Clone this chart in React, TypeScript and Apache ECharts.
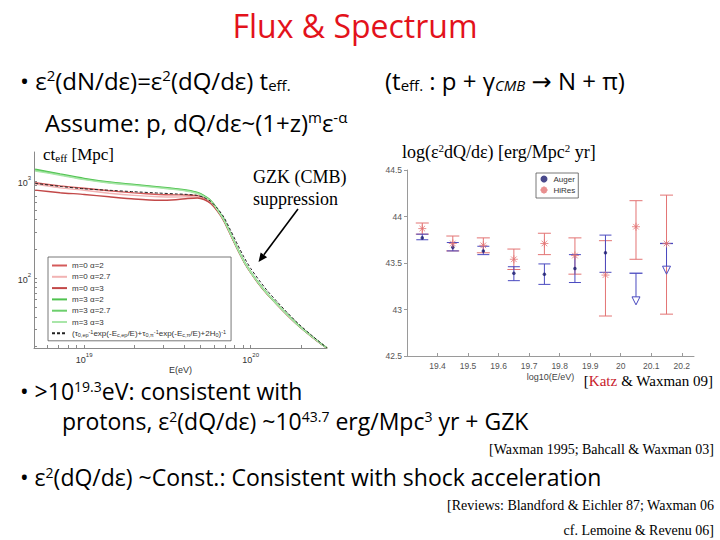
import React, { useEffect, useRef } from "react";
import * as echarts from "echarts";

// ---------- Left panel: c·t_eff [Mpc] vs E (values stored as log10) ----------
const LOG_E = [18.706, 18.856, 19.0, 19.15, 19.3, 19.45, 19.55, 19.62, 19.68, 19.72, 19.76, 19.8, 19.84, 19.88, 19.92, 19.96, 20.0, 20.05, 20.1, 20.16, 20.22, 20.29, 20.36, 20.42, 20.458];
const CT_M0_A2 = [2.982, 2.95, 2.926, 2.9, 2.878, 2.862, 2.858, 2.857, 2.848, 2.825, 2.78, 2.7, 2.592, 2.448, 2.304, 2.17, 2.06, 1.94, 1.836, 1.726, 1.621, 1.507, 1.408, 1.328, 1.281];
const CT_M0_A27 = [2.969, 2.93, 2.905, 2.875, 2.852, 2.838, 2.836, 2.838, 2.835, 2.815, 2.772, 2.695, 2.588, 2.445, 2.301, 2.168, 2.058, 1.938, 1.834, 1.725, 1.62, 1.506, 1.407, 1.327, 1.281];
const CT_M0_A3 = [2.907, 2.88, 2.862, 2.838, 2.815, 2.802, 2.808, 2.82, 2.826, 2.81, 2.768, 2.69, 2.585, 2.442, 2.299, 2.166, 2.056, 1.937, 1.833, 1.724, 1.619, 1.505, 1.406, 1.326, 1.281];
const CT_M3_A2 = [3.121, 3.072, 3.027, 2.99, 2.965, 2.94, 2.922, 2.905, 2.882, 2.85, 2.8, 2.71, 2.6, 2.455, 2.31, 2.175, 2.065, 1.945, 1.84, 1.73, 1.625, 1.51, 1.41, 1.33, 1.281];
const CT_M3_A27 = [3.112, 3.066, 3.02, 2.985, 2.96, 2.935, 2.917, 2.9, 2.877, 2.845, 2.796, 2.707, 2.597, 2.452, 2.307, 2.173, 2.063, 1.943, 1.839, 1.729, 1.624, 1.509, 1.409, 1.329, 1.281];
const CT_M3_A3 = [3.104, 3.06, 3.015, 2.98, 2.955, 2.93, 2.912, 2.895, 2.872, 2.84, 2.792, 2.704, 2.594, 2.45, 2.305, 2.171, 2.061, 1.941, 1.837, 1.727, 1.622, 1.508, 1.408, 1.328, 1.281];
const CT_ANALYTIC = [2.976, 2.945, 2.92, 2.905, 2.89, 2.876, 2.868, 2.862, 2.852, 2.83, 2.79, 2.72, 2.625, 2.49, 2.35, 2.215, 2.1, 1.98, 1.87, 1.755, 1.645, 1.525, 1.42, 1.335, 1.281];

const LEFT_NAMES = ["m=0 α=2", "m=0 α=2.7", "m=0 α=3", "m=3 α=2", "m=3 α=2.7", "m=3 α=3", "analytic"];
const LEFT_COLORS = ["#d45a5a", "#f2b3b3", "#c24848", "#4fc24f", "#6ccf6c", "#a9e6a9", "#222222"];
const LEFT_X_LABELS = [19, 20];
const LEFT_Y_LABELS = [2, 3];

// ---------- Right panel: log(e^2 dQ/de) vs log10(E/eV) ----------
const BINS = [19.35, 19.45, 19.55, 19.65, 19.75, 19.85, 19.95, 20.05, 20.15];
const AUGER_BINS = [19.35, 19.45, 19.55, 19.65, 19.75, 19.85, 19.95];
const AUGER_VAL = [43.77, 43.67, 43.63, 43.39, 43.38, 43.44, 43.61];
const AUGER_LO = [43.75, 43.63, 43.59, 43.31, 43.27, 43.29, 43.4];
const AUGER_HI = [43.81, 43.72, 43.68, 43.46, 43.49, 43.59, 43.8];
const AUGER_UL_BINS = [20.05, 20.15];
const AUGER_UL_TOP = [43.39, 43.71];
const AUGER_UL_TIP = [43.05, 43.38];
const HIRES_VAL = [43.87, 43.71, 43.69, 43.54, 43.71, 43.58, 43.37, 43.89, 43.71];
const HIRES_LO = [43.81, 43.63, 43.61, 43.43, 43.59, 43.38, 42.93, 43.54, 42.95];
const HIRES_HI = [43.93, 43.79, 43.77, 43.65, 43.82, 43.77, 43.74, 44.17, 44.23];

const COMIC = "'Open Sans', 'DejaVu Sans', sans-serif";
const SERIF = "'Liberation Serif', 'DejaVu Serif', serif";
const SANS = "'Liberation Sans', Arial, sans-serif";

const AUGER_BAR = "#4a4ac0";
const AUGER_DOT = "#1c1c6e";
const HIRES_COLOR = "#e37474";

function logTicks(lo: number, hi: number) {
  const out: number[] = [];
  for (let n = Math.floor(lo); n <= Math.ceil(hi); n++) {
    for (let k = 1; k <= 9; k++) {
      const v = n + Math.log10(k);
      if (v >= lo - 1e-9 && v <= hi + 1e-9) out.push(v);
    }
  }
  return out;
}

function richFor(size: number, family: string, color: string) {
  const lh = Math.round(size * 1.05);
  const s = Math.round(size * 0.62);
  return {
    sup: { fontSize: s, fontFamily: family, fill: color, color, verticalAlign: "top", lineHeight: Math.round(s * 1.0) },
    sub: { fontSize: s, fontFamily: family, fill: color, color, verticalAlign: "bottom", lineHeight: Math.round(s * 1.0) },
    subi: { fontSize: s, fontFamily: family, fontStyle: "italic", fill: color, color, verticalAlign: "bottom", lineHeight: Math.round(s * 1.0) },
    red: { fontSize: size, fontFamily: family, fill: "#c8202a", color: "#c8202a", lineHeight: lh },
  };
}

function txt(text: string, x: number, y: number, size: number, family: string, opts: any = {}) {
  const color = opts.color || "#000";
  return {
    type: "text",
    x,
    y,
    silent: true,
    style: {
      text,
      fontSize: size,
      fontFamily: family,
      fill: color,
      align: opts.align || "left",
      verticalAlign: "middle",
      lineHeight: Math.round(size * 1.05),
      rich: richFor(size, family, color),
    },
  };
}

function arrowGraphic(x0: number, y0: number, x1: number, y1: number) {
  const dx = x1 - x0;
  const dy = y1 - y0;
  const len = Math.sqrt(dx * dx + dy * dy);
  const ux = dx / len;
  const uy = dy / len;
  const hl = 9;
  const hw = 4;
  const bx = x1 - ux * hl;
  const by = y1 - uy * hl;
  return [
    { type: "line", silent: true, shape: { x1: x0, y1: y0, x2: bx, y2: by }, style: { stroke: "#000", lineWidth: 1.6 } },
    {
      type: "polygon",
      silent: true,
      shape: { points: [[x1, y1], [bx - uy * hw, by + ux * hw], [bx + uy * hw, by - ux * hw]] },
      style: { fill: "#000" },
    },
  ];
}

export default function App() {
  const ref = useRef<HTMLDivElement>(null);

  useEffect(() => {
    if (!ref.current) return;
    const chart = echarts.init(ref.current, null, { renderer: "svg" });

    const leftData = [CT_M0_A2, CT_M0_A27, CT_M0_A3, CT_M3_A2, CT_M3_A27, CT_M3_A3, CT_ANALYTIC];
    const leftSeries = leftData.map((arr, i) => ({
      name: LEFT_NAMES[i],
      type: "line",
      xAxisIndex: 0,
      yAxisIndex: 0,
      symbol: "none",
      smooth: 0.2,
      z: i === 6 ? 5 : i >= 3 ? 4 : 3,
      lineStyle: {
        color: LEFT_COLORS[i],
        width: i === 6 ? 1 : 1.4,
        type: i === 6 ? [3, 2] : "solid",
      },
      itemStyle: { color: LEFT_COLORS[i] },
      data: LOG_E.map((x, j) => [x, arr[j]]),
    }));

    const errBar = (color: string, half: number) => (params: any, api: any) => {
      const x = api.value(0);
      const top = api.coord([x, api.value(2)]);
      const bot = api.coord([x, api.value(1)]);
      const st = { stroke: color, lineWidth: 1 };
      return {
        type: "group",
        children: [
          { type: "line", shape: { x1: top[0], y1: top[1], x2: bot[0], y2: bot[1] }, style: st },
          { type: "line", shape: { x1: top[0] - half, y1: top[1], x2: top[0] + half, y2: top[1] }, style: st },
          { type: "line", shape: { x1: bot[0] - half, y1: bot[1], x2: bot[0] + half, y2: bot[1] }, style: st },
        ],
      };
    };

    const upperLimit = (params: any, api: any) => {
      const x = api.value(0);
      const top = api.coord([x, api.value(1)]);
      const tip = api.coord([x, api.value(2)]);
      const st = { stroke: AUGER_BAR, lineWidth: 1 };
      return {
        type: "group",
        children: [
          { type: "line", shape: { x1: top[0] - 6.5, y1: top[1], x2: top[0] + 6.5, y2: top[1] }, style: { stroke: AUGER_BAR, lineWidth: 1.3 } },
          { type: "line", shape: { x1: top[0], y1: top[1], x2: tip[0], y2: tip[1] - 8 }, style: st },
          {
            type: "polygon",
            shape: { points: [[tip[0] - 4, tip[1] - 8], [tip[0] + 4, tip[1] - 8], [tip[0], tip[1]]] },
            style: { stroke: AUGER_BAR, fill: "none", lineWidth: 1 },
          },
        ],
      };
    };

    const superLabel = (v: number) => `{b|10}{s|${Math.round(v)}}`;
    const superRich = {
      b: { fontSize: 9, color: "#333", fontFamily: SANS, verticalAlign: "bottom", lineHeight: 12 },
      s: { fontSize: 6, color: "#333", fontFamily: SANS, verticalAlign: "top", lineHeight: 7 },
    };

    const option: any = {
      animation: false,
      backgroundColor: "#ffffff",
      grid: [
        { left: 34, top: 152, width: 293, height: 196 },
        { left: 407, top: 170, width: 287, height: 186 },
      ],
      xAxis: [
        {
          gridIndex: 0,
          type: "value",
          min: 18.699,
          max: 20.458,
          name: "E(eV)",
          nameLocation: "middle",
          nameGap: 17,
          nameTextStyle: { fontSize: 9, color: "#333", fontFamily: SANS, lineHeight: 10 },
          axisLine: { lineStyle: { color: "#8a8a8a", width: 1 } },
          axisTick: { inside: true, length: 3, customValues: logTicks(18.699, 20.458), lineStyle: { color: "#8a8a8a" } },
          axisLabel: { customValues: LEFT_X_LABELS, formatter: superLabel, rich: superRich, margin: 4 },
          splitLine: { show: false },
        },
        {
          gridIndex: 1,
          type: "value",
          min: 19.3,
          max: 20.24,
          interval: 0.1,
          name: "log10(E/eV)",
          nameLocation: "middle",
          nameGap: 16,
          nameTextStyle: { fontSize: 9, color: "#444", fontFamily: SANS },
          axisLine: { lineStyle: { color: "#9a9a9a", width: 1 } },
          axisTick: { inside: true, length: 3, lineStyle: { color: "#9a9a9a" } },
          axisLabel: { showMinLabel: false, showMaxLabel: false, fontSize: 8.5, color: "#555", fontFamily: SANS, margin: 5 },
          splitLine: { show: false },
        },
      ],
      yAxis: [
        {
          gridIndex: 0,
          type: "value",
          min: 1.281,
          max: 3.299,
          axisLine: { show: true, lineStyle: { color: "#8a8a8a", width: 1 } },
          axisTick: { show: true, inside: true, length: 3, customValues: logTicks(1.281, 3.299), lineStyle: { color: "#8a8a8a" } },
          axisLabel: { customValues: LEFT_Y_LABELS, formatter: superLabel, rich: superRich, margin: 3 },
          splitLine: { show: false },
        },
        {
          gridIndex: 1,
          type: "value",
          min: 42.5,
          max: 44.5,
          interval: 0.5,
          axisLine: { show: true, lineStyle: { color: "#9a9a9a", width: 1 } },
          axisTick: { show: true, inside: false, length: 3, lineStyle: { color: "#9a9a9a" } },
          axisLabel: { fontSize: 8.5, color: "#555", fontFamily: SANS, margin: 5 },
          splitLine: { show: false },
        },
      ],
      legend: [
        {
          data: LEFT_NAMES,
          orient: "vertical",
          left: 48,
          top: 257,
          padding: [4, 5, 3, 3],
          itemGap: 2.3,
          itemWidth: 15,
          itemHeight: 9,
          borderColor: "#555",
          borderWidth: 0.8,
          backgroundColor: "#ffffff",
          selectedMode: false,
          itemStyle: { opacity: 0 },
          textStyle: {
            fontSize: 8,
            color: "#333",
            fontFamily: SANS,
            lineHeight: 9,
            rich: {
              s: { fontSize: 5.5, color: "#333", fontFamily: SANS, verticalAlign: "bottom", lineHeight: 6 },
              p: { fontSize: 5.5, color: "#333", fontFamily: SANS, verticalAlign: "top", lineHeight: 6 },
            },
          },
          formatter: (name: string) =>
            name === "analytic"
              ? "(τ{s|0,ep}{p|-1}exp(-E{s|c,ep}/E)+τ{s|0,π}{p|-1}exp(-E{s|c,π}/E)+2H{s|0}){p|-1}"
              : name,
        },
        {
          data: ["Auger", "HiRes"],
          orient: "vertical",
          left: 536,
          top: 173,
          padding: [2, 3, 2, 2],
          itemGap: 1,
          itemWidth: 9,
          itemHeight: 7,
          borderColor: "#555",
          borderWidth: 0.8,
          backgroundColor: "#ffffff",
          selectedMode: false,
          textStyle: { fontSize: 8, color: "#333", fontFamily: SANS },
        },
      ],
      series: [
        ...leftSeries,
        {
          type: "custom",
          xAxisIndex: 1,
          yAxisIndex: 1,
          silent: true,
          renderItem: errBar(HIRES_COLOR, 6.5),
          data: BINS.map((x, i) => [x, HIRES_LO[i], HIRES_HI[i]]),
          z: 2,
        },
        {
          type: "custom",
          xAxisIndex: 1,
          yAxisIndex: 1,
          silent: true,
          renderItem: errBar(AUGER_BAR, 6),
          data: AUGER_BINS.map((x, i) => [x, AUGER_LO[i], AUGER_HI[i]]),
          z: 3,
        },
        {
          type: "custom",
          xAxisIndex: 1,
          yAxisIndex: 1,
          silent: true,
          renderItem: upperLimit,
          data: AUGER_UL_BINS.map((x, i) => [x, AUGER_UL_TOP[i], AUGER_UL_TIP[i]]),
          z: 3,
        },
        {
          name: "Auger",
          type: "scatter",
          xAxisIndex: 1,
          yAxisIndex: 1,
          symbol: "circle",
          symbolSize: 3.5,
          itemStyle: { color: AUGER_DOT },
          data: AUGER_BINS.map((x, i) => [x, AUGER_VAL[i]]),
          z: 5,
        },
        {
          name: "HiRes",
          type: "scatter",
          xAxisIndex: 1,
          yAxisIndex: 1,
          symbol: "path://M5 0L5 10M0 5L10 5M1.5 1.5L8.5 8.5M8.5 1.5L1.5 8.5",
          symbolSize: 8,
          itemStyle: { color: "none", borderColor: HIRES_COLOR, borderWidth: 1 },
          data: BINS.map((x, i) => [x, HIRES_VAL[i]]),
          z: 5,
        },
      ],
      graphic: [
        txt("Flux & Spectrum", 355, 25, 32, COMIC, { align: "center", color: "#e3121b" }),
        txt("• ε{sup|2}(dN/dε)=ε{sup|2}(dQ/dε) t{sub|eff.}", 20, 80, 24, COMIC),
        txt("(t{sub|eff.} : p + γ{subi|CMB} → N + π)", 385, 80, 24, COMIC),
        txt("Assume: p, dQ/dε~(1+z){sup|m}ε{sup|-α}", 45, 122, 24, COMIC),
        txt("ct{sub|eff} [Mpc]", 43, 154, 17, SERIF),
        txt("GZK (CMB)", 253, 177, 18, SERIF),
        txt("suppression", 253, 199, 18, SERIF),
        txt("log(ε{sup|2}dQ/dε) [erg/Mpc{sup|2} yr]", 402, 152, 18, SERIF),
        txt("[{red|Katz} & Waxman 09]", 713, 381, 15, SERIF, { align: "right" }),
        txt("• >10{sup|19.3}eV: consistent with", 20, 391, 23, COMIC),
        txt("protons, ε{sup|2}(dQ/dε) ~10{sup|43.7} erg/Mpc{sup|3} yr + GZK", 62, 421, 23, COMIC),
        txt("[Waxman 1995; Bahcall & Waxman 03]", 714, 449, 14, SERIF, { align: "right" }),
        txt("• ε{sup|2}(dQ/dε) ~Const.: Consistent with shock acceleration", 20, 477, 23, COMIC),
        txt("[Reviews: Blandford & Eichler 87; Waxman 06", 714, 505, 14, SERIF, { align: "right" }),
        txt("cf. Lemoine & Revenu 06]", 714, 530, 14, SERIF, { align: "right" }),
        ...arrowGraphic(298, 209, 258.5, 262),
      ],
    };

    chart.setOption(option);
    return () => chart.dispose();
  }, []);

  return (
    <div
      ref={ref}
      style={{ position: "fixed", left: 0, top: 0, width: 720, height: 540, background: "#fff" }}
    />
  );
}
